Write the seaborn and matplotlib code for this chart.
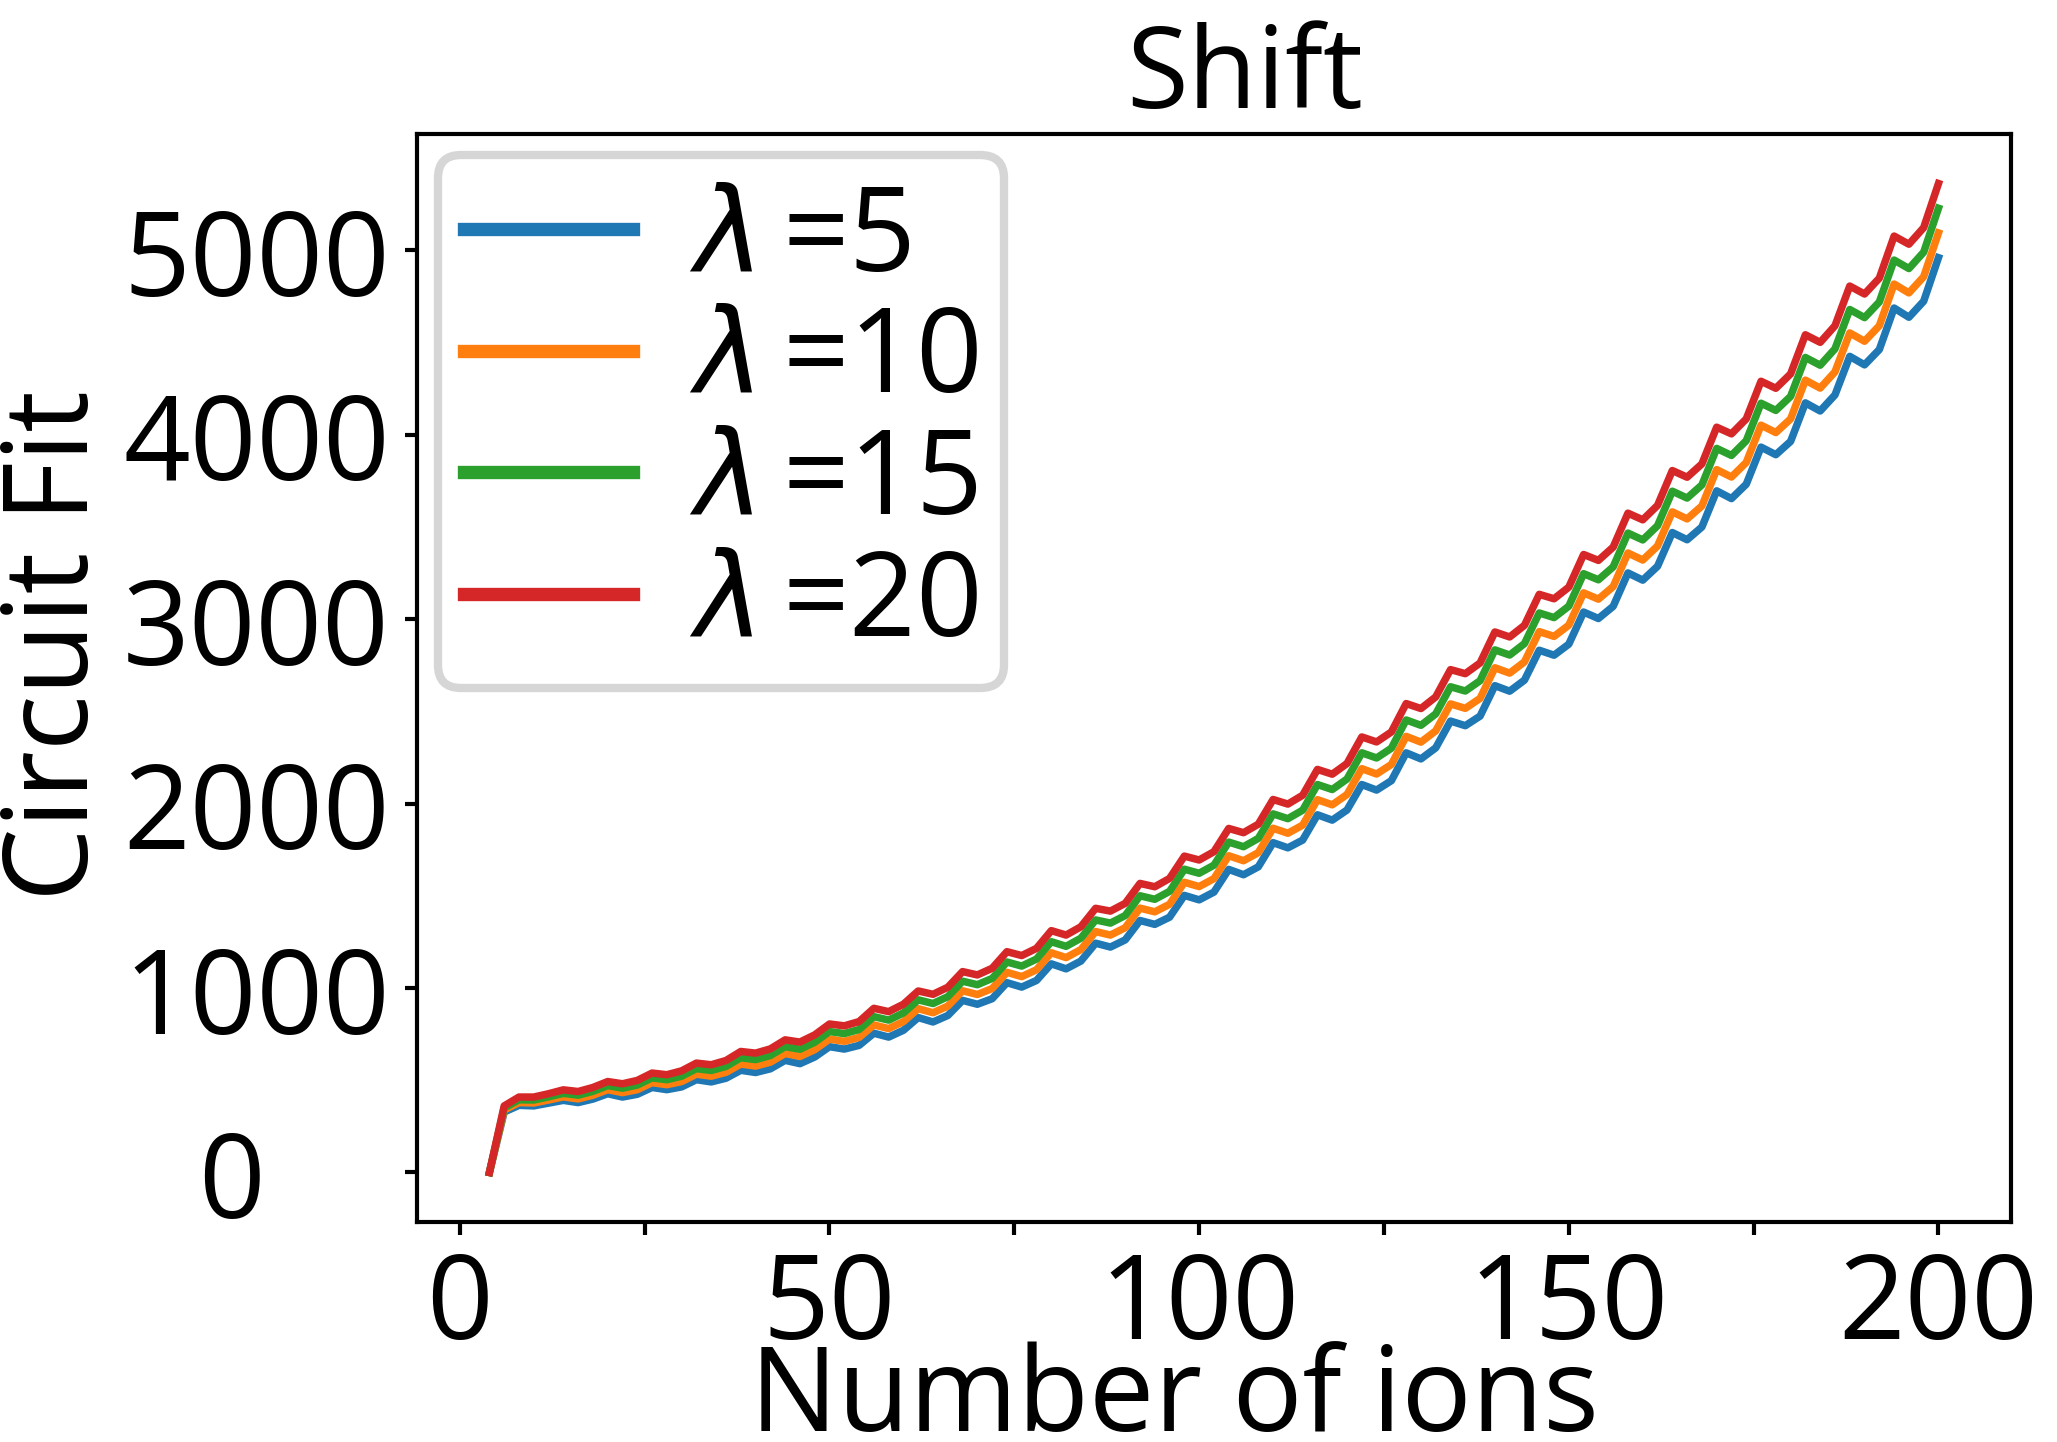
import numpy as np
import pandas as pd
import matplotlib
matplotlib.use("Agg")
import matplotlib.pyplot as plt
import matplotlib.transforms as mtransforms
import seaborn as sns

# -------------------------------------------
# DATA
# -------------------------------------------
n_ions = list(range(4, 201, 2))

fit_lambda_5 = [
    0, 328, 364, 361, 376, 391, 379, 398, 427, 409, 424, 461, 449, 464, 503, 491, 511,
    554, 542, 562, 608, 590, 626, 682, 669, 689, 755, 734, 771, 840, 816, 851, 933,
    912, 942, 1029, 1005, 1041, 1131, 1104, 1146, 1243, 1222, 1261, 1366, 1345, 1384,
    1502, 1478, 1520, 1643, 1614, 1657, 1788, 1760, 1802, 1939, 1910, 1965, 2103, 2073,
    2124, 2275, 2242, 2302, 2447, 2422, 2474, 2639, 2609, 2669, 2831, 2804, 2864, 3038,
    3003, 3069, 3250, 3211, 3286, 3469, 3430, 3499, 3695, 3653, 3731, 3932, 3891, 3963,
    4172, 4128, 4215, 4424, 4378, 4461, 4686, 4636, 4723, 4959,
]
fit_lambda_10 = [
    0, 339, 379, 377, 393, 410, 399, 419, 449, 433, 449, 487, 476, 493, 533, 522, 543,
    588, 577, 598, 645, 629, 666, 723, 711, 732, 800, 780, 818, 888, 866, 902, 985,
    965, 997, 1085, 1062, 1099, 1191, 1165, 1208, 1306, 1287, 1327, 1433, 1413, 1454,
    1573, 1550, 1593, 1717, 1690, 1734, 1866, 1839, 1883, 2021, 1993, 2049, 2189, 2160,
    2212, 2364, 2333, 2394, 2540, 2516, 2570, 2736, 2707, 2768, 2932, 2906, 2967, 3142,
    3108, 3176, 3358, 3320, 3396, 3581, 3543, 3613, 3810, 3770, 3849, 4051, 4011, 4085,
    4295, 4252, 4340, 4551, 4506, 4590, 4816, 4768, 4856, 5093,
]
fit_lambda_15 = [
    0, 350, 394, 393, 410, 429, 419, 440, 471, 457, 474, 513, 503, 522, 563, 553, 575,
    622, 612, 634, 682, 668, 706, 764, 753, 775, 845, 826, 865, 936, 916, 953, 1037,
    1018, 1052, 1141, 1119, 1157, 1251, 1226, 1270, 1369, 1352, 1393, 1500, 1481, 1524,
    1644, 1622, 1666, 1791, 1766, 1811, 1944, 1918, 1964, 2103, 2076, 2133, 2275, 2247,
    2300, 2453, 2424, 2486, 2633, 2610, 2666, 2833, 2805, 2867, 3033, 3008, 3070, 3246,
    3213, 3283, 3466, 3429, 3506, 3693, 3656, 3727, 3925, 3887, 3967, 4170, 4131, 4207,
    4418, 4376, 4465, 4678, 4634, 4719, 4946, 4900, 4989, 5227,
]
fit_lambda_20 = [
    0, 361, 409, 409, 427, 448, 439, 461, 493, 481, 499, 539, 530, 551, 593, 584, 607,
    656, 647, 670, 719, 707, 746, 805, 795, 818, 890, 872, 912, 984, 966, 1004, 1089,
    1071, 1107, 1197, 1176, 1215, 1311, 1287, 1332, 1432, 1417, 1459, 1567, 1549, 1594,
    1715, 1694, 1739, 1865, 1842, 1888, 2022, 1997, 2045, 2185, 2159, 2217, 2361, 2334,
    2388, 2542, 2515, 2578, 2726, 2704, 2762, 2930, 2903, 2966, 3134, 3110, 3173, 3350,
    3318, 3390, 3574, 3538, 3616, 3805, 3769, 3841, 4040, 4004, 4085, 4289, 4251, 4329,
    4541, 4500, 4590, 4805, 4762, 4848, 5076, 5032, 5122, 5361,
]

series_labels = [r"$\lambda\,$=5", r"$\lambda\,$=10", r"$\lambda\,$=15", r"$\lambda\,$=20"]
series_colors = ["#1f77b4", "#ff7f0e", "#2ca02c", "#d62728"]

x_ticks = [0, 25, 50, 75, 100, 125, 150, 175, 200]
x_tick_labels = ["0", "", "50", "", "100", "", "150", "", "200"]
y_ticks = [0, 1000, 2000, 3000, 4000, 5000]
y_tick_labels = ["0", "1000", "2000", "3000", "4000", "5000"]

# -------------------------------------------
# STYLE
# -------------------------------------------
plt.rcParams["font.family"] = ["Open Sans", "DejaVu Sans"]
plt.rcParams["font.size"] = 28
plt.rcParams["axes.linewidth"] = 1.0
plt.rcParams["xtick.major.size"] = 3.0
plt.rcParams["ytick.major.size"] = 3.0
plt.rcParams["xtick.major.width"] = 1.0
plt.rcParams["ytick.major.width"] = 1.0

fig = plt.figure(figsize=(2057 / 300, 1443 / 300), dpi=300)
ax = fig.add_axes([0.2027, 0.1525, 0.9776 - 0.2027, 0.9064 - 0.1525])

all_series = [fit_lambda_5, fit_lambda_10, fit_lambda_15, fit_lambda_20]
for vals, lab, col in zip(all_series, series_labels, series_colors):
    df = pd.DataFrame({"Number of ions": n_ions, "Circuit Fit": vals})
    sns.lineplot(data=df, x="Number of ions", y="Circuit Fit", ax=ax,
                 color=col, label=lab, linewidth=1.8)

ax.set_xticks(x_ticks)
ax.set_xticklabels(x_tick_labels)
ax.set_yticks(y_ticks)
ax.set_yticklabels(y_tick_labels)

# the "0" label sits further left in the original
zero_lab = ax.get_yticklabels()[0]
zero_lab.set_transform(zero_lab.get_transform() +
                       mtransforms.ScaledTranslation(-30 / 72, 0, fig.dpi_scale_trans))

ax.set_title("Shift", x=0.519, fontsize=27, pad=4.5)
ax.set_xlabel("Number of ions", labelpad=-6)
ax.xaxis.label.set_x(0.475)
ax.set_ylabel("Circuit Fit", labelpad=1.7)
ax.yaxis.label.set_y(0.531)

leg = ax.legend(loc="upper left", handlelength=1.45, handletextpad=0.48,
                labelspacing=0.04, borderaxespad=0.18, borderpad=0.22,
                fancybox=True)
leg.get_frame().set_linewidth(2.0)
for ln in leg.get_lines():
    ln.set_linewidth(3.2)

fig.savefig("out.png", dpi=300)
